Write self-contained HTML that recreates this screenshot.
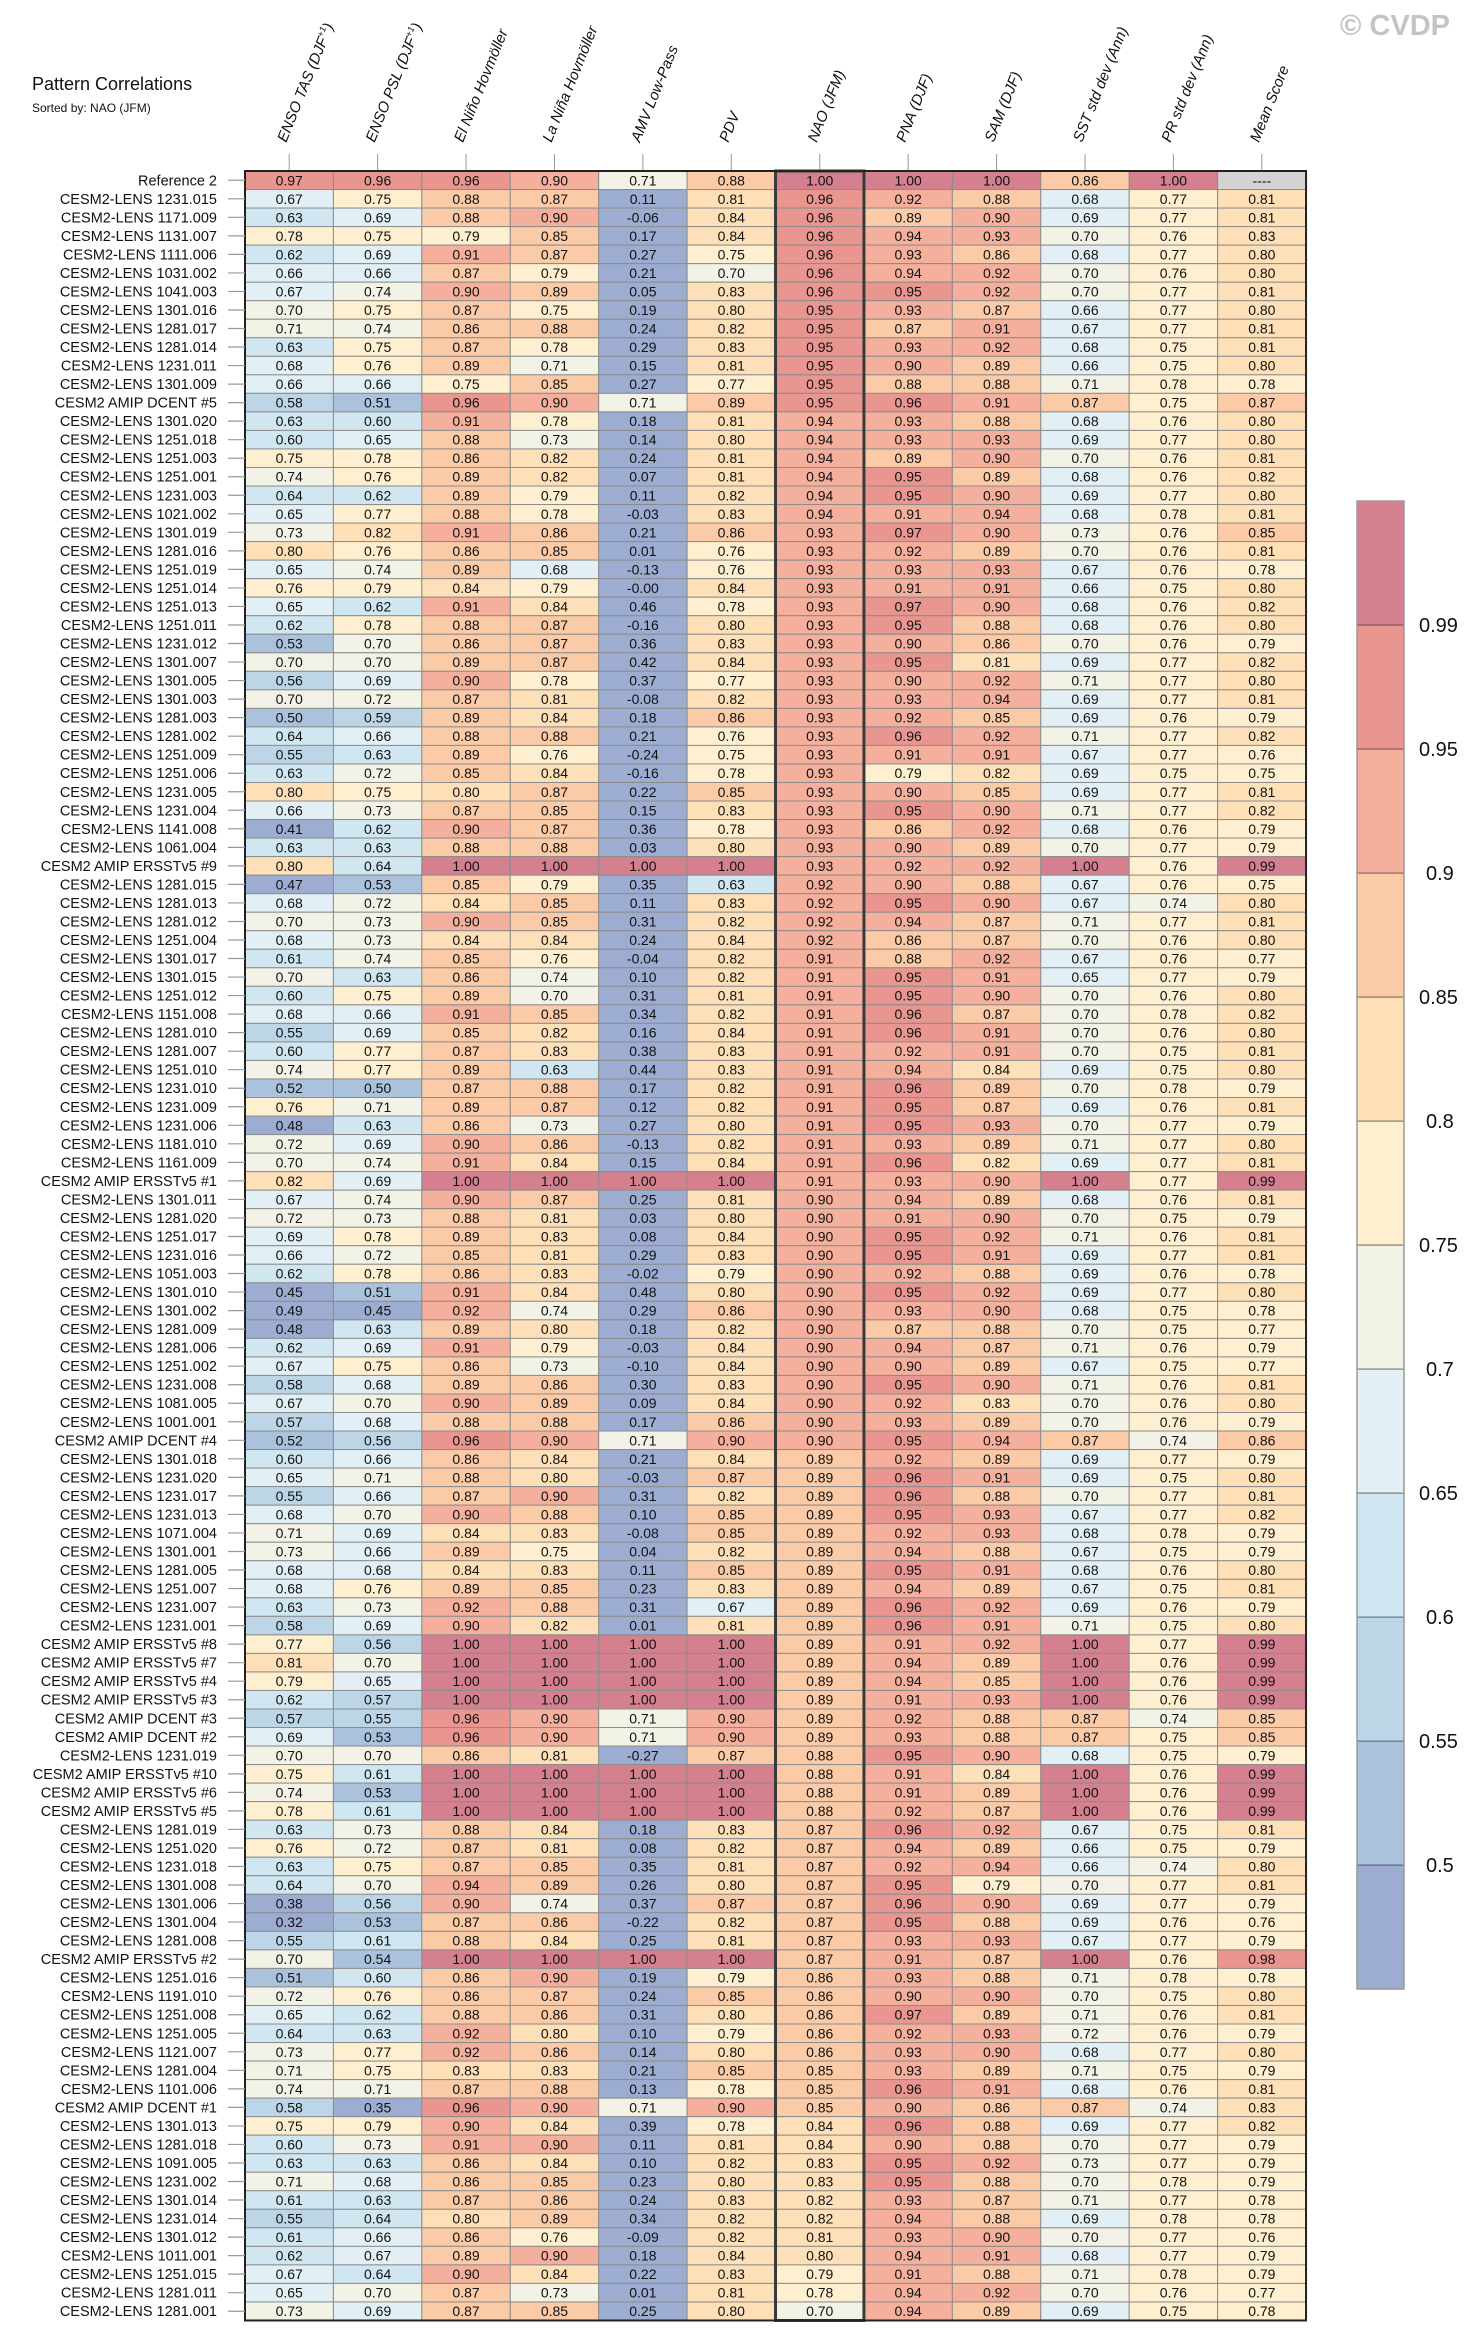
<!DOCTYPE html>
<html><head><meta charset="utf-8">
<style>
html,body{margin:0;padding:0;background:#fff;}
svg{display:block;font-family:"Liberation Sans",Arial,sans-serif;}
</style></head>
<body>
<svg id="chart" width="1481" height="2342" viewBox="0 0 1481 2342" xmlns="http://www.w3.org/2000/svg">
<text x="32" y="90" font-size="18" fill="#111">Pattern Correlations</text>
<text x="32" y="112" font-size="12" fill="#111">Sorted by: NAO (JFM)</text>
<text x="1340" y="35" font-size="29" font-weight="bold" fill="#c4c4c4">© CVDP</text>
<g id="g-head"></g><g id="g-cells"></g><g id="g-rows"></g><g id="g-cb"></g>
</svg>
<script>
const colLabels = ["ENSO TAS (DJF|+1|)","ENSO PSL (DJF|+1|)","El Niño Hovmöller","La Niña Hovmöller","AMV Low-Pass","PDV","NAO (JFM)","PNA (DJF)","SAM (DJF)","SST std dev (Ann)","PR std dev (Ann)","Mean Score"];
const rowLabels = ["Reference 2","CESM2-LENS 1231.015","CESM2-LENS 1171.009","CESM2-LENS 1131.007","CESM2-LENS 1111.006","CESM2-LENS 1031.002","CESM2-LENS 1041.003","CESM2-LENS 1301.016","CESM2-LENS 1281.017","CESM2-LENS 1281.014","CESM2-LENS 1231.011","CESM2-LENS 1301.009","CESM2 AMIP DCENT #5","CESM2-LENS 1301.020","CESM2-LENS 1251.018","CESM2-LENS 1251.003","CESM2-LENS 1251.001","CESM2-LENS 1231.003","CESM2-LENS 1021.002","CESM2-LENS 1301.019","CESM2-LENS 1281.016","CESM2-LENS 1251.019","CESM2-LENS 1251.014","CESM2-LENS 1251.013","CESM2-LENS 1251.011","CESM2-LENS 1231.012","CESM2-LENS 1301.007","CESM2-LENS 1301.005","CESM2-LENS 1301.003","CESM2-LENS 1281.003","CESM2-LENS 1281.002","CESM2-LENS 1251.009","CESM2-LENS 1251.006","CESM2-LENS 1231.005","CESM2-LENS 1231.004","CESM2-LENS 1141.008","CESM2-LENS 1061.004","CESM2 AMIP ERSSTv5 #9","CESM2-LENS 1281.015","CESM2-LENS 1281.013","CESM2-LENS 1281.012","CESM2-LENS 1251.004","CESM2-LENS 1301.017","CESM2-LENS 1301.015","CESM2-LENS 1251.012","CESM2-LENS 1151.008","CESM2-LENS 1281.010","CESM2-LENS 1281.007","CESM2-LENS 1251.010","CESM2-LENS 1231.010","CESM2-LENS 1231.009","CESM2-LENS 1231.006","CESM2-LENS 1181.010","CESM2-LENS 1161.009","CESM2 AMIP ERSSTv5 #1","CESM2-LENS 1301.011","CESM2-LENS 1281.020","CESM2-LENS 1251.017","CESM2-LENS 1231.016","CESM2-LENS 1051.003","CESM2-LENS 1301.010","CESM2-LENS 1301.002","CESM2-LENS 1281.009","CESM2-LENS 1281.006","CESM2-LENS 1251.002","CESM2-LENS 1231.008","CESM2-LENS 1081.005","CESM2-LENS 1001.001","CESM2 AMIP DCENT #4","CESM2-LENS 1301.018","CESM2-LENS 1231.020","CESM2-LENS 1231.017","CESM2-LENS 1231.013","CESM2-LENS 1071.004","CESM2-LENS 1301.001","CESM2-LENS 1281.005","CESM2-LENS 1251.007","CESM2-LENS 1231.007","CESM2-LENS 1231.001","CESM2 AMIP ERSSTv5 #8","CESM2 AMIP ERSSTv5 #7","CESM2 AMIP ERSSTv5 #4","CESM2 AMIP ERSSTv5 #3","CESM2 AMIP DCENT #3","CESM2 AMIP DCENT #2","CESM2-LENS 1231.019","CESM2 AMIP ERSSTv5 #10","CESM2 AMIP ERSSTv5 #6","CESM2 AMIP ERSSTv5 #5","CESM2-LENS 1281.019","CESM2-LENS 1251.020","CESM2-LENS 1231.018","CESM2-LENS 1301.008","CESM2-LENS 1301.006","CESM2-LENS 1301.004","CESM2-LENS 1281.008","CESM2 AMIP ERSSTv5 #2","CESM2-LENS 1251.016","CESM2-LENS 1191.010","CESM2-LENS 1251.008","CESM2-LENS 1251.005","CESM2-LENS 1121.007","CESM2-LENS 1281.004","CESM2-LENS 1101.006","CESM2 AMIP DCENT #1","CESM2-LENS 1301.013","CESM2-LENS 1281.018","CESM2-LENS 1091.005","CESM2-LENS 1231.002","CESM2-LENS 1301.014","CESM2-LENS 1231.014","CESM2-LENS 1301.012","CESM2-LENS 1011.001","CESM2-LENS 1251.015","CESM2-LENS 1281.011","CESM2-LENS 1281.001"];
const values = [
[0.97,0.96,0.96,0.90,0.71,0.88,1.00,1.00,1.00,0.86,1.00,null],
[0.67,0.75,0.88,0.87,0.11,0.81,0.96,0.92,0.88,0.68,0.77,0.81],
[0.63,0.69,0.88,0.90,-0.06,0.84,0.96,0.89,0.90,0.69,0.77,0.81],
[0.78,0.75,0.79,0.85,0.17,0.84,0.96,0.94,0.93,0.70,0.76,0.83],
[0.62,0.69,0.91,0.87,0.27,0.75,0.96,0.93,0.86,0.68,0.77,0.80],
[0.66,0.66,0.87,0.79,0.21,0.70,0.96,0.94,0.92,0.70,0.76,0.80],
[0.67,0.74,0.90,0.89,0.05,0.83,0.96,0.95,0.92,0.70,0.77,0.81],
[0.70,0.75,0.87,0.75,0.19,0.80,0.95,0.93,0.87,0.66,0.77,0.80],
[0.71,0.74,0.86,0.88,0.24,0.82,0.95,0.87,0.91,0.67,0.77,0.81],
[0.63,0.75,0.87,0.78,0.29,0.83,0.95,0.93,0.92,0.68,0.75,0.81],
[0.68,0.76,0.89,0.71,0.15,0.81,0.95,0.90,0.89,0.66,0.75,0.80],
[0.66,0.66,0.75,0.85,0.27,0.77,0.95,0.88,0.88,0.71,0.78,0.78],
[0.58,0.51,0.96,0.90,0.71,0.89,0.95,0.96,0.91,0.87,0.75,0.87],
[0.63,0.60,0.91,0.78,0.18,0.81,0.94,0.93,0.88,0.68,0.76,0.80],
[0.60,0.65,0.88,0.73,0.14,0.80,0.94,0.93,0.93,0.69,0.77,0.80],
[0.75,0.78,0.86,0.82,0.24,0.81,0.94,0.89,0.90,0.70,0.76,0.81],
[0.74,0.76,0.89,0.82,0.07,0.81,0.94,0.95,0.89,0.68,0.76,0.82],
[0.64,0.62,0.89,0.79,0.11,0.82,0.94,0.95,0.90,0.69,0.77,0.80],
[0.65,0.77,0.88,0.78,-0.03,0.83,0.94,0.91,0.94,0.68,0.78,0.81],
[0.73,0.82,0.91,0.86,0.21,0.86,0.93,0.97,0.90,0.73,0.76,0.85],
[0.80,0.76,0.86,0.85,0.01,0.76,0.93,0.92,0.89,0.70,0.76,0.81],
[0.65,0.74,0.89,0.68,-0.13,0.76,0.93,0.93,0.93,0.67,0.76,0.78],
[0.76,0.79,0.84,0.79,-0.00,0.84,0.93,0.91,0.91,0.66,0.75,0.80],
[0.65,0.62,0.91,0.84,0.46,0.78,0.93,0.97,0.90,0.68,0.76,0.82],
[0.62,0.78,0.88,0.87,-0.16,0.80,0.93,0.95,0.88,0.68,0.76,0.80],
[0.53,0.70,0.86,0.87,0.36,0.83,0.93,0.90,0.86,0.70,0.76,0.79],
[0.70,0.70,0.89,0.87,0.42,0.84,0.93,0.95,0.81,0.69,0.77,0.82],
[0.56,0.69,0.90,0.78,0.37,0.77,0.93,0.90,0.92,0.71,0.77,0.80],
[0.70,0.72,0.87,0.81,-0.08,0.82,0.93,0.93,0.94,0.69,0.77,0.81],
[0.50,0.59,0.89,0.84,0.18,0.86,0.93,0.92,0.85,0.69,0.76,0.79],
[0.64,0.66,0.88,0.88,0.21,0.76,0.93,0.96,0.92,0.71,0.77,0.82],
[0.55,0.63,0.89,0.76,-0.24,0.75,0.93,0.91,0.91,0.67,0.77,0.76],
[0.63,0.72,0.85,0.84,-0.16,0.78,0.93,0.79,0.82,0.69,0.75,0.75],
[0.80,0.75,0.80,0.87,0.22,0.85,0.93,0.90,0.85,0.69,0.77,0.81],
[0.66,0.73,0.87,0.85,0.15,0.83,0.93,0.95,0.90,0.71,0.77,0.82],
[0.41,0.62,0.90,0.87,0.36,0.78,0.93,0.86,0.92,0.68,0.76,0.79],
[0.63,0.63,0.88,0.88,0.03,0.80,0.93,0.90,0.89,0.70,0.77,0.79],
[0.80,0.64,1.00,1.00,1.00,1.00,0.93,0.92,0.92,1.00,0.76,0.99],
[0.47,0.53,0.85,0.79,0.35,0.63,0.92,0.90,0.88,0.67,0.76,0.75],
[0.68,0.72,0.84,0.85,0.11,0.83,0.92,0.95,0.90,0.67,0.74,0.80],
[0.70,0.73,0.90,0.85,0.31,0.82,0.92,0.94,0.87,0.71,0.77,0.81],
[0.68,0.73,0.84,0.84,0.24,0.84,0.92,0.86,0.87,0.70,0.76,0.80],
[0.61,0.74,0.85,0.76,-0.04,0.82,0.91,0.88,0.92,0.67,0.76,0.77],
[0.70,0.63,0.86,0.74,0.10,0.82,0.91,0.95,0.91,0.65,0.77,0.79],
[0.60,0.75,0.89,0.70,0.31,0.81,0.91,0.95,0.90,0.70,0.76,0.80],
[0.68,0.66,0.91,0.85,0.34,0.82,0.91,0.96,0.87,0.70,0.78,0.82],
[0.55,0.69,0.85,0.82,0.16,0.84,0.91,0.96,0.91,0.70,0.76,0.80],
[0.60,0.77,0.87,0.83,0.38,0.83,0.91,0.92,0.91,0.70,0.75,0.81],
[0.74,0.77,0.89,0.63,0.44,0.83,0.91,0.94,0.84,0.69,0.75,0.80],
[0.52,0.50,0.87,0.88,0.17,0.82,0.91,0.96,0.89,0.70,0.78,0.79],
[0.76,0.71,0.89,0.87,0.12,0.82,0.91,0.95,0.87,0.69,0.76,0.81],
[0.48,0.63,0.86,0.73,0.27,0.80,0.91,0.95,0.93,0.70,0.77,0.79],
[0.72,0.69,0.90,0.86,-0.13,0.82,0.91,0.93,0.89,0.71,0.77,0.80],
[0.70,0.74,0.91,0.84,0.15,0.84,0.91,0.96,0.82,0.69,0.77,0.81],
[0.82,0.69,1.00,1.00,1.00,1.00,0.91,0.93,0.90,1.00,0.77,0.99],
[0.67,0.74,0.90,0.87,0.25,0.81,0.90,0.94,0.89,0.68,0.76,0.81],
[0.72,0.73,0.88,0.81,0.03,0.80,0.90,0.91,0.90,0.70,0.75,0.79],
[0.69,0.78,0.89,0.83,0.08,0.84,0.90,0.95,0.92,0.71,0.76,0.81],
[0.66,0.72,0.85,0.81,0.29,0.83,0.90,0.95,0.91,0.69,0.77,0.81],
[0.62,0.78,0.86,0.83,-0.02,0.79,0.90,0.92,0.88,0.69,0.76,0.78],
[0.45,0.51,0.91,0.84,0.48,0.80,0.90,0.95,0.92,0.69,0.77,0.80],
[0.49,0.45,0.92,0.74,0.29,0.86,0.90,0.93,0.90,0.68,0.75,0.78],
[0.48,0.63,0.89,0.80,0.18,0.82,0.90,0.87,0.88,0.70,0.75,0.77],
[0.62,0.69,0.91,0.79,-0.03,0.84,0.90,0.94,0.87,0.71,0.76,0.79],
[0.67,0.75,0.86,0.73,-0.10,0.84,0.90,0.90,0.89,0.67,0.75,0.77],
[0.58,0.68,0.89,0.86,0.30,0.83,0.90,0.95,0.90,0.71,0.76,0.81],
[0.67,0.70,0.90,0.89,0.09,0.84,0.90,0.92,0.83,0.70,0.76,0.80],
[0.57,0.68,0.88,0.88,0.17,0.86,0.90,0.93,0.89,0.70,0.76,0.79],
[0.52,0.56,0.96,0.90,0.71,0.90,0.90,0.95,0.94,0.87,0.74,0.86],
[0.60,0.66,0.86,0.84,0.21,0.84,0.89,0.92,0.89,0.69,0.77,0.79],
[0.65,0.71,0.88,0.80,-0.03,0.87,0.89,0.96,0.91,0.69,0.75,0.80],
[0.55,0.66,0.87,0.90,0.31,0.82,0.89,0.96,0.88,0.70,0.77,0.81],
[0.68,0.70,0.90,0.88,0.10,0.85,0.89,0.95,0.93,0.67,0.77,0.82],
[0.71,0.69,0.84,0.83,-0.08,0.85,0.89,0.92,0.93,0.68,0.78,0.79],
[0.73,0.66,0.89,0.75,0.04,0.82,0.89,0.94,0.88,0.67,0.75,0.79],
[0.68,0.68,0.84,0.83,0.11,0.85,0.89,0.95,0.91,0.68,0.76,0.80],
[0.68,0.76,0.89,0.85,0.23,0.83,0.89,0.94,0.89,0.67,0.75,0.81],
[0.63,0.73,0.92,0.88,0.31,0.67,0.89,0.96,0.92,0.69,0.76,0.79],
[0.58,0.69,0.90,0.82,0.01,0.81,0.89,0.96,0.91,0.71,0.75,0.80],
[0.77,0.56,1.00,1.00,1.00,1.00,0.89,0.91,0.92,1.00,0.77,0.99],
[0.81,0.70,1.00,1.00,1.00,1.00,0.89,0.94,0.89,1.00,0.76,0.99],
[0.79,0.65,1.00,1.00,1.00,1.00,0.89,0.94,0.85,1.00,0.76,0.99],
[0.62,0.57,1.00,1.00,1.00,1.00,0.89,0.91,0.93,1.00,0.76,0.99],
[0.57,0.55,0.96,0.90,0.71,0.90,0.89,0.92,0.88,0.87,0.74,0.85],
[0.69,0.53,0.96,0.90,0.71,0.90,0.89,0.93,0.88,0.87,0.75,0.85],
[0.70,0.70,0.86,0.81,-0.27,0.87,0.88,0.95,0.90,0.68,0.75,0.79],
[0.75,0.61,1.00,1.00,1.00,1.00,0.88,0.91,0.84,1.00,0.76,0.99],
[0.74,0.53,1.00,1.00,1.00,1.00,0.88,0.91,0.89,1.00,0.76,0.99],
[0.78,0.61,1.00,1.00,1.00,1.00,0.88,0.92,0.87,1.00,0.76,0.99],
[0.63,0.73,0.88,0.84,0.18,0.83,0.87,0.96,0.92,0.67,0.75,0.81],
[0.76,0.72,0.87,0.81,0.08,0.82,0.87,0.94,0.89,0.66,0.75,0.79],
[0.63,0.75,0.87,0.85,0.35,0.81,0.87,0.92,0.94,0.66,0.74,0.80],
[0.64,0.70,0.94,0.89,0.26,0.80,0.87,0.95,0.79,0.70,0.77,0.81],
[0.38,0.56,0.90,0.74,0.37,0.87,0.87,0.96,0.90,0.69,0.77,0.79],
[0.32,0.53,0.87,0.86,-0.22,0.82,0.87,0.95,0.88,0.69,0.76,0.76],
[0.55,0.61,0.88,0.84,0.25,0.81,0.87,0.93,0.93,0.67,0.77,0.79],
[0.70,0.54,1.00,1.00,1.00,1.00,0.87,0.91,0.87,1.00,0.76,0.98],
[0.51,0.60,0.86,0.90,0.19,0.79,0.86,0.93,0.88,0.71,0.78,0.78],
[0.72,0.76,0.86,0.87,0.24,0.85,0.86,0.90,0.90,0.70,0.75,0.80],
[0.65,0.62,0.88,0.86,0.31,0.80,0.86,0.97,0.89,0.71,0.76,0.81],
[0.64,0.63,0.92,0.80,0.10,0.79,0.86,0.92,0.93,0.72,0.76,0.79],
[0.73,0.77,0.92,0.86,0.14,0.80,0.86,0.93,0.90,0.68,0.77,0.80],
[0.71,0.75,0.83,0.83,0.21,0.85,0.85,0.93,0.89,0.71,0.75,0.79],
[0.74,0.71,0.87,0.88,0.13,0.78,0.85,0.96,0.91,0.68,0.76,0.81],
[0.58,0.35,0.96,0.90,0.71,0.90,0.85,0.90,0.86,0.87,0.74,0.83],
[0.75,0.79,0.90,0.84,0.39,0.78,0.84,0.96,0.88,0.69,0.77,0.82],
[0.60,0.73,0.91,0.90,0.11,0.81,0.84,0.90,0.88,0.70,0.77,0.79],
[0.63,0.63,0.86,0.84,0.10,0.82,0.83,0.95,0.92,0.73,0.77,0.79],
[0.71,0.68,0.86,0.85,0.23,0.80,0.83,0.95,0.88,0.70,0.78,0.79],
[0.61,0.63,0.87,0.86,0.24,0.83,0.82,0.93,0.87,0.71,0.77,0.78],
[0.55,0.64,0.80,0.89,0.34,0.82,0.82,0.94,0.88,0.69,0.78,0.78],
[0.61,0.66,0.86,0.76,-0.09,0.82,0.81,0.93,0.90,0.70,0.77,0.76],
[0.62,0.67,0.89,0.90,0.18,0.84,0.80,0.94,0.91,0.68,0.77,0.79],
[0.67,0.64,0.90,0.84,0.22,0.83,0.79,0.91,0.88,0.71,0.78,0.79],
[0.65,0.70,0.87,0.73,0.01,0.81,0.78,0.94,0.92,0.70,0.76,0.77],
[0.73,0.69,0.87,0.85,0.25,0.80,0.70,0.94,0.89,0.69,0.75,0.78]
];
const binEdges = [0.5,0.55,0.6,0.65,0.7,0.75,0.8,0.85,0.9,0.95,0.99];
const binLabels = ["0.5","0.55","0.6","0.65","0.7","0.75","0.8","0.85","0.9","0.95","0.99"];
const binColors = ["#9dadd2","#aac2dc","#bcd6e8","#d0e6f0","#e2f0f6","#f3f2e6","#fdefcf","#fde0b8","#fbcba8","#f4b09c","#e99690","#d4808f"];

const NS="http://www.w3.org/2000/svg";
const L=245, CW=88.42, T=171, RH=18.53;
const nR=rowLabels.length, nC=colLabels.length;
const xCol=j=>L+j*CW;
const yRow=i=>T+i*RH;
function mk(tag,attrs,parent){const e=document.createElementNS(NS,tag);for(const k in attrs)e.setAttribute(k,attrs[k]);parent.appendChild(e);return e;}
function colorFor(v){if(v===null)return "#d3d3d3";let k=0;for(const e of binEdges){if(v>=e-1e-9)k++;}return binColors[k];}
function fmt(v){if(v===null)return '----';if(Object.is(v,-0))return '-0.00';return v.toFixed(2);}

const gH=document.getElementById('g-head'), gC=document.getElementById('g-cells'), gR=document.getElementById('g-rows'), gB=document.getElementById('g-cb');

colLabels.forEach((lab,j)=>{
  const cx=xCol(j)+CW/2;
  const tk=mk('line',{x1:cx,x2:cx,y1:154,y2:T,stroke:'#999','stroke-width':1},gH);
  
  
  const t=mk('text',{x:cx-3,y:143,'font-size':15,'font-style':'italic',fill:'#111',transform:`rotate(-68 ${cx-3} 143)`},gH);
  
  
  const parts=lab.split('|');
  parts.forEach((p,k)=>{
    const s=mk('tspan',{},t);
    if(k===1){s.setAttribute('font-size','9');s.setAttribute('dy','-6');}
    else if(k===2){s.setAttribute('dy','6');}
    s.textContent=p;
  });
});

for(let i=0;i<nR;i++){
  for(let j=0;j<nC;j++){
    const v=values[i][j];
    const r=mk('rect',{x:xCol(j),y:yRow(i),width:CW,height:RH,fill:colorFor(v),stroke:'#8c8c8c','stroke-width':1},gC);
    
    
    const t=mk('text',{x:xCol(j)+CW/2,y:yRow(i)+RH/2+5,'font-size':14,'text-anchor':'middle',fill:'#111'},gC);
    
    
    t.textContent = fmt(v);
  }
  const yc=yRow(i)+RH/2;
  const tk=mk('line',{x1:228,x2:L,y1:yc,y2:yc,stroke:'#999','stroke-width':1.2},gR);
  
  
  const rl=mk('text',{x:217,y:yc+5,'font-size':14.5,'text-anchor':'end',fill:'#111'},gR);
  
  
  rl.textContent=rowLabels[i];
}
const naoIdx=6;
const box=mk('rect',{x:xCol(naoIdx),y:T,width:CW,height:nR*RH,fill:'none',stroke:'#3a3a3a','stroke-width':3},gC);


const ob=mk('rect',{x:L,y:T,width:nC*CW,height:nR*RH,fill:'none',stroke:'#222','stroke-width':2},gC);



const CBX=1357, CBW=47, CBT=501, CBH=124, nB=binColors.length;
for(let k=0;k<nB;k++){
  const y=CBT+(nB-1-k)*CBH;
  const r=mk('rect',{x:CBX,y:y,width:CBW,height:CBH,fill:binColors[k],stroke:'#333','stroke-width':0.6},gB);
  
  
}
const cbo=mk('rect',{x:CBX,y:CBT,width:CBW,height:nB*CBH,fill:'none',stroke:'#999','stroke-width':1.5},gB);


binLabels.forEach((lab,k)=>{
  const y=CBT+(nB-1-k)*CBH;
  const t=mk('text',{x:1419+(lab.length===3?7:0),y:y+7,'font-size':20,fill:'#111'},gB);
  
  
  t.textContent=lab;
});
</script>
</body></html>
